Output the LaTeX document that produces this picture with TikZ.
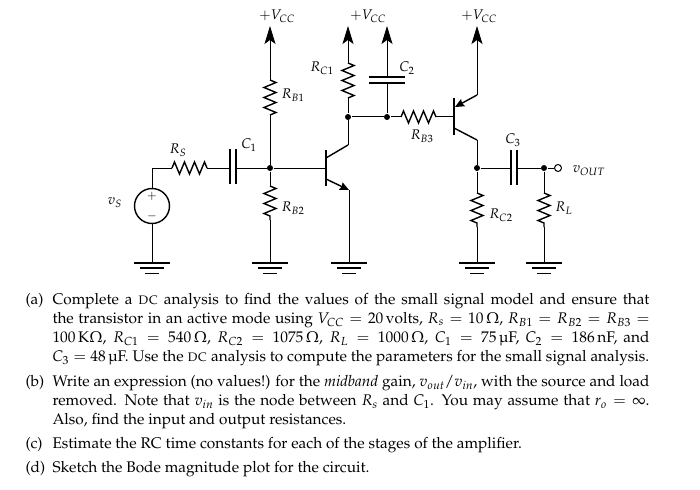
\documentclass[tikz,border=0pt]{standalone}
\usepackage[T1]{fontenc}
\usepackage{mathpazo}
\usepackage{textcomp}
\usetikzlibrary{arrows.meta,decorations.pathmorphing}
\begin{document}
\begin{tikzpicture}[x=1pt,y=-1pt,line width=1pt,font=\fontsize{14}{18}\selectfont,
    resistor/.style={line width=1.4pt,decorate,decoration={zigzag,segment length=10pt,amplitude=6pt}},
    rail/.style={-{Stealth[length=18pt,width=11pt,inset=4pt]}},
    bar/.style={line width=1.8pt},
    dot/.style={circle,fill=black,inner sep=0pt,minimum size=6pt},
    itemtext/.style={anchor=north west,inner sep=0pt,text width=597pt,align=justify,font=\fontsize{15.4}{19}\selectfont},
    itemlabel/.style={anchor=north west,inner sep=0pt,font=\fontsize{15.4}{19}\selectfont}]
\useasboundingbox (0,0) rectangle (700,489);

% upper ends of the supply lines
\coordinate (vcca) at (270,26);
\coordinate (vccb) at (348,26);
\coordinate (vccc) at (387,26);
\coordinate (vccd) at (477,26);

% junctions
\node[dot] (base) at (270,168) {};
\node[dot] (coll) at (348,117) {};
\node[dot] (cap) at (387,117) {};
\node[dot] (emit) at (477,168) {};
\node[dot] (load) at (544,168) {};
\node[draw,circle,inner sep=0pt,minimum size=7pt,fill=white] (vout) at (558,168) {};

% grounds
\coordinate (gnds) at (152,263);
\coordinate (gndb) at (270,263);
\coordinate (gnde) at (349,263);
\coordinate (gndc) at (477,263);
\coordinate (gndl) at (544,263);
\foreach \g in {gnds,gndb,gnde,gndc,gndl} {
    \draw[line width=1.7pt] ([xshift=-18pt]\g) -- ([xshift=18pt]\g);
    \draw[line width=1.4pt] ([xshift=-12pt,yshift=-5pt]\g) -- ([xshift=12pt,yshift=-5pt]\g);
    \draw[line width=1pt] ([xshift=-7pt,yshift=-10pt]\g) -- ([xshift=7pt,yshift=-10pt]\g);
}

% source
\node[draw,circle,line width=1.4pt,minimum size=35pt,inner sep=0pt] (vs) at (152,206) {};
\node[inner sep=0pt,font=\fontsize{12}{12}\bfseries] (plus) at (152,196) {$+$};
\node[inner sep=0pt,font=\fontsize{12}{12}\bfseries] (minus) at (152,216) {$-$};
\draw (vs) -- (gnds);
\coordinate (rsa) at (172,168);
\coordinate (rsb) at (207,168);
\draw (vs) -- (152,168) -- (rsa);
\draw[resistor] (rsa) -- (rsb);
\coordinate (caa) at (230,168);
\coordinate (cab) at (236,168);
\draw (rsb) -- (caa) (cab) -- (base);
\draw[bar] (230,149) -- (230,184) (236,149) -- (236,184);

% first bias divider
\coordinate (rbaa) at (270,80);
\coordinate (rbab) at (270,115);
\draw[rail] (rbaa) -- (vcca);
\draw[resistor] (rbaa) -- (rbab);
\draw (rbab) -- (base);
\coordinate (rbba) at (270,186);
\coordinate (rbbb) at (270,220);
\draw (base) -- (rbba);
\draw[resistor] (rbba) -- (rbbb);
\draw (rbbb) -- (gndb);

% first transistor
\coordinate (qabase) at (326,168);
\coordinate (qacoll) at (348,145);
\coordinate (qaemit) at (349,190);
\draw (base) -- (qabase);
\draw[bar] (326,150) -- (326,186);
\draw[line width=1.4pt] (326,158) -- (qacoll);
\draw[line width=1.4pt,-{Stealth[length=9pt,width=8pt,inset=1pt]}] (326,179) -- (qaemit);
\draw (qaemit) -- (gnde);
\draw (qacoll) -- (coll);
\coordinate (rcaa) at (348,63);
\coordinate (rcab) at (348,98);
\draw[rail] (rcaa) -- (vccb);
\draw[resistor] (rcaa) -- (rcab);
\draw (rcab) -- (coll);

% C2 and RB3
\draw (coll) -- (cap);
\coordinate (cba) at (387,77);
\coordinate (cbb) at (387,83);
\draw[rail] (cba) -- (vccc);
\draw (cbb) -- (cap);
\draw[bar] (369,77) -- (405,77) (369,83) -- (405,83);
\coordinate (rbca) at (401,117);
\coordinate (rbcb) at (436,117);
\draw (cap) -- (rbca);
\draw[resistor] (rbca) -- (rbcb);

% second transistor
\coordinate (qbbase) at (454,117);
\coordinate (qbcoll) at (477,140);
\coordinate (qbemit) at (477,95);
\draw (rbcb) -- (qbbase);
\draw[bar] (454,98) -- (454,135);
\draw[line width=1.4pt,-{Stealth[length=9pt,width=8pt,inset=1pt]}] (qbemit) -- (455,107);
\draw[rail] (qbemit) -- (vccd);
\draw[line width=1.4pt] (454,128) -- (qbcoll);
\draw (qbcoll) -- (emit);

% output side
\coordinate (cca) at (511,168);
\coordinate (ccb) at (517,168);
\draw (emit) -- (cca) (ccb) -- (load) -- (vout);
\draw[bar] (511,150) -- (511,185) (517,150) -- (517,185);
\coordinate (rcca) at (477,193);
\coordinate (rccb) at (477,227);
\draw (emit) -- (rcca);
\draw[resistor] (rcca) -- (rccb);
\draw (rccb) -- (gndc);
\coordinate (rla) at (544,193);
\coordinate (rlb) at (544,227);
\draw (load) -- (rla);
\draw[resistor] (rla) -- (rlb);
\draw (rlb) -- (gndl);

% circuit labels
\node (lvcca) at (277,16) {$+V_{CC}$};
\node (lvccb) at (368,16) {$+V_{CC}$};
\node (lvccc) at (479,16) {$+V_{CC}$};
\node (lrca) at (322,68) {$R_{C1}$};
\node (lrba) at (293,95) {$R_{B1}$};
\node (lcb) at (407,68) {$C_2$};
\node (lrbc) at (422,136) {$R_{B3}$};
\node (lrs) at (178,150) {$R_S$};
\node (lca) at (249,145) {$C_1$};
\node (lvs) at (115,203) {$v_S$};
\node (lrbb) at (293,208) {$R_{B2}$};
\node (lcc) at (513,140) {$C_3$};
\node (lvout) at (589,171) {$v_{OUT}$};
\node (lrcc) at (501,215) {$R_{C2}$};
\node (lrl) at (564,208) {$R_L$};

% questions
\node[itemlabel] (laba) at (25,293) {(a)};
\node[itemtext] (itema) at (52,293) {Complete a \textsc{dc} analysis to find the values of the small signal model and ensure that\linebreak
the transistor in an active mode using $V_{CC}=20\,$volts, $R_s=10\,\Omega$, $R_{B1}=R_{B2}=R_{B3}=$\linebreak
$100\,$K$\Omega$, $R_{C1}=540\,\Omega$, $R_{C2}=1075\,\Omega$, $R_L=1000\,\Omega$, $C_1=75\,$\textmu F, $C_2=186\,$nF, and\linebreak
$C_3=48\,$\textmu F. Use the \textsc{dc} analysis to compute the parameters for the small signal analysis.};
\node[itemlabel] (labb) at (25,375) {(b)};
\node[itemtext] (itemb) at (52,375) {Write an expression (no values!) for the \textit{midband} gain, $v_{out}/v_{in}$, with the source and load\linebreak
removed. Note that $v_{in}$ is the node between $R_s$ and $C_1$. You may assume that $r_o=\infty$.\linebreak
Also, find the input and output resistances.};
\node[itemlabel] (labc) at (25,437) {(c)};
\node[itemtext] (itemc) at (52,437) {Estimate the RC time constants for each of the stages of the amplifier.};
\node[itemlabel] (labd) at (25,461) {(d)};
\node[itemtext] (itemd) at (52,461) {Sketch the Bode magnitude plot for the circuit.};
\end{tikzpicture}
\end{document}
